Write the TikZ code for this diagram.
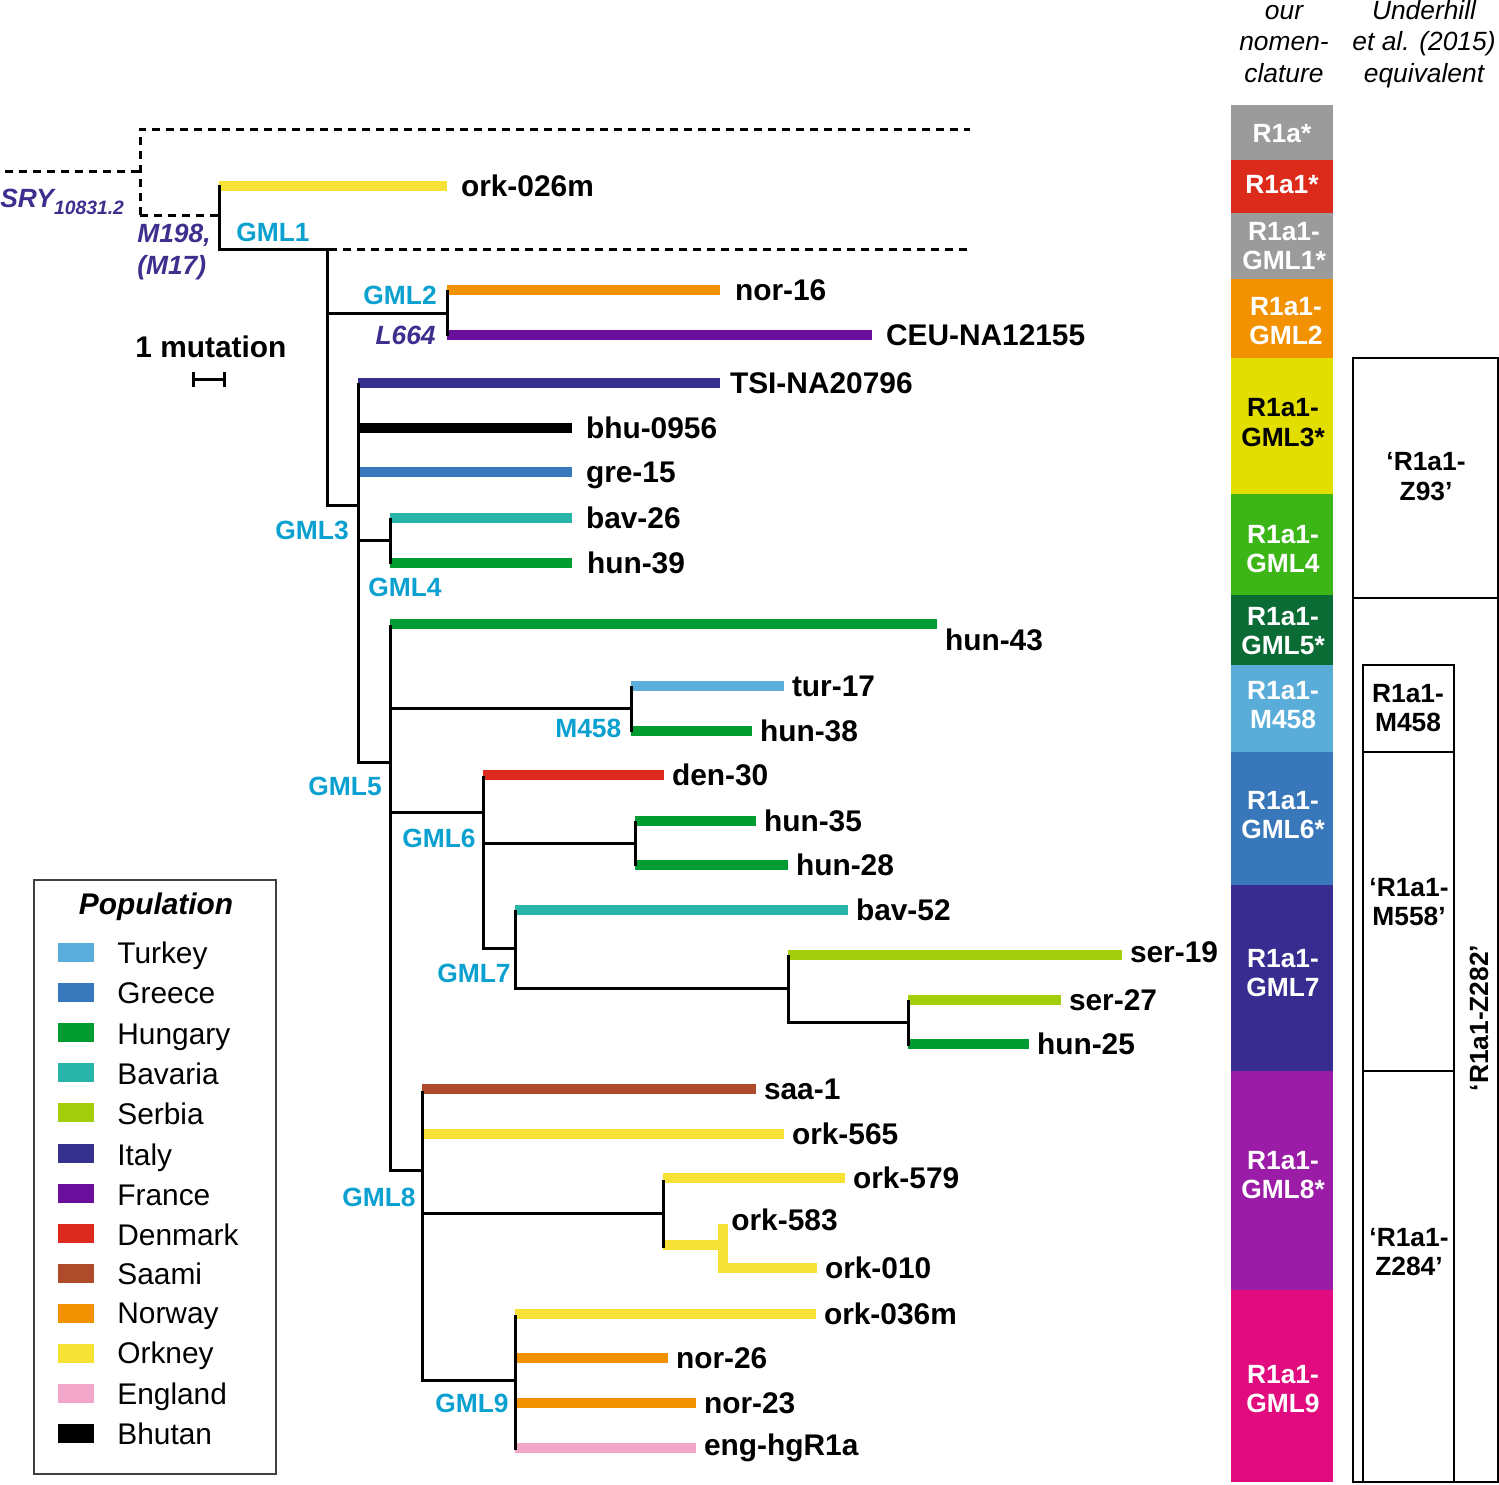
\documentclass[tikz,border=0pt]{standalone}
\usepackage{fontspec}
\setmainfont{Liberation Sans}
\usetikzlibrary{calc}

\definecolor{turkey}{RGB}{91,174,219}
\definecolor{greece}{RGB}{56,121,187}
\definecolor{hungary}{RGB}{0,156,50}
\definecolor{bavaria}{RGB}{40,180,168}
\definecolor{serbia}{RGB}{162,206,12}
\definecolor{italy}{RGB}{53,49,143}
\definecolor{france}{RGB}{106,15,156}
\definecolor{denmark}{RGB}{220,43,30}
\definecolor{saami}{RGB}{174,75,42}
\definecolor{norway}{RGB}{243,146,0}
\definecolor{orkney}{RGB}{246,226,52}
\definecolor{england}{RGB}{242,166,200}
\definecolor{bhutan}{RGB}{0,0,0}
\definecolor{cladecyan}{RGB}{10,160,208}
\definecolor{mutpurple}{RGB}{62,46,142}
\definecolor{hgray}{RGB}{155,155,155}
\definecolor{hred}{RGB}{220,43,27}
\definecolor{horange}{RGB}{243,146,0}
\definecolor{hyellow}{RGB}{226,222,0}
\definecolor{hgreen}{RGB}{60,181,23}
\definecolor{hdkgreen}{RGB}{10,107,52}
\definecolor{hltblue}{RGB}{90,173,217}
\definecolor{hblue}{RGB}{56,120,186}
\definecolor{hindigo}{RGB}{56,44,144}
\definecolor{hpurple}{RGB}{155,28,167}
\definecolor{hmagenta}{RGB}{225,10,127}

\tikzset{
	tree/.style={line width=0.6mm, line cap=rect},
	bar/.style={line width=2mm},
	dashline/.style={line width=0.6mm, dash pattern=on 1.6mm off 1.2mm},
	leaf/.style={anchor=west, inner sep=0pt, xshift=#1, text=black, text height=12.2pt, text depth=0pt, font=\bfseries\fontsize{17}{20}\selectfont},
	leaf/.default=0.6mm,
	clade/.style={inner sep=0pt, text=cladecyan, text height=10.7pt, text depth=0pt, font=\bfseries\fontsize{15}{18}\selectfont},
	mut/.style={inner sep=0pt, text=mutpurple, font=\bfseries\itshape\fontsize{15}{18}\selectfont},
	coltext/.style={text=white, align=center, inner sep=0pt, font=\bfseries\fontsize{15}{17}\selectfont},
	hdr/.style={align=center, inner sep=0pt, font=\itshape\fontsize{15}{17.9}\selectfont},
	eqbox/.style={draw, line width=0.3mm},
	eqtext/.style={align=center, inner sep=0pt, font=\bfseries\fontsize{15}{17}\selectfont},
	legtext/.style={anchor=west, inner sep=0pt, text height=12.2pt, text depth=0pt, font=\fontsize{17}{20}\selectfont},
	swatch/.style={minimum width=7.2mm, minimum height=3.8mm, inner sep=0pt}
}

\begin{document}
\begin{tikzpicture}[x=0.2mm, y=-0.2mm]
			%%%%% START %%%%%
			\useasboundingbox (0,0) rectangle (1499,1484);
			
			% junctions of the tree
			\coordinate (gml1) at (219,249);
			\coordinate (gml1s) at (327,249);
			\coordinate (gml2) at (447,313);
			\coordinate (gml3) at (358,505);
			\coordinate (gml4) at (390,540);
			\coordinate (gml5) at (390,762);
			\coordinate (m458) at (631,708);
			\coordinate (gml6) at (483,812);
			\coordinate (hunsub) at (635,843);
			\coordinate (gml7) at (515,948);
			\coordinate (sersub) at (788,988);
			\coordinate (sersubb) at (908,1022);
			\coordinate (gml8) at (422,1170);
			\coordinate (orksub) at (663,1213);
			\coordinate (gml9) at (515,1380);
			
			% dashed ancestral lines
			\draw[dashline] (5,171) -- (140,171);
			\draw[dashline] (140,215) -- (140,129) -- (970,129);
			\draw[dashline] (140,215) -- (218,215);
			\draw[dashline] (329,249) -- (970,249);
			
			% coloured branches
			\draw[bar, orkney] (219,186) -- (447,186) node[leaf=1.8mm] (ork026m) {ork-026m};
			\draw[bar, norway] (447,290) -- (720,290) node[leaf=2mm] (nor16) {nor-16};
			\draw[bar, france] (447,335) -- (872,335) node[leaf=1.8mm] (ceu) {CEU-NA12155};
			\draw[bar, italy] (358,383) -- (720,383) node[leaf=1mm] (tsi) {TSI-NA20796};
			\draw[bar, bhutan] (358,428) -- (572,428) node[leaf=1.8mm] (bhu0956) {bhu-0956};
			\draw[bar, greece] (358,472) -- (572,472) node[leaf=1.8mm] (gre15) {gre-15};
			\draw[bar, bavaria] (390,518) -- (572,518) node[leaf=1.8mm] (bav26) {bav-26};
			\draw[bar, hungary] (390,563) -- (572,563) node[leaf=2mm] (hun39) {hun-39};
			\draw[bar, hungary] (390,624) -- (937,624) node[leaf, yshift=-3.2mm] (hun43) {hun-43};
			\draw[bar, turkey] (631,686) -- (784,686) node[leaf] (tur17) {tur-17};
			\draw[bar, hungary] (631,731) -- (752,731) node[leaf] (hun38) {hun-38};
			\draw[bar, denmark] (483,775) -- (664,775) node[leaf] (den30) {den-30};
			\draw[bar, hungary] (635,821) -- (756,821) node[leaf] (hun35) {hun-35};
			\draw[bar, hungary] (635,865) -- (788,865) node[leaf] (hun28) {hun-28};
			\draw[bar, bavaria] (515,910) -- (848,910) node[leaf] (bav52) {bav-52};
			\draw[bar, serbia] (788,955) -- (1122,955) node[leaf, yshift=0.6mm] (ser19) {ser-19};
			\draw[bar, serbia] (908,1000) -- (1061,1000) node[leaf] (ser27) {ser-27};
			\draw[bar, hungary] (908,1044) -- (1029,1044) node[leaf] (hun25) {hun-25};
			\draw[bar, saami] (422,1089) -- (756,1089) node[leaf] (saa1) {saa-1};
			\draw[bar, orkney] (422,1134) -- (784,1134) node[leaf] (ork565) {ork-565};
			\draw[bar, orkney] (663,1178) -- (845,1178) node[leaf] (ork579) {ork-579};
			\draw[bar, orkney] (663,1245) -- (723,1245);
			\draw[bar, orkney] (723,1224) -- (723,1273);
			\draw[bar, orkney] (723,1268) -- (817,1268) node[leaf] (ork010) {ork-010};
			\node[leaf=0pt] (ork583) at (731,1220) {ork-583};
			\draw[bar, orkney] (515,1314) -- (816,1314) node[leaf] (ork036m) {ork-036m};
			\draw[bar, norway] (515,1358) -- (668,1358) node[leaf] (nor26) {nor-26};
			\draw[bar, norway] (515,1403) -- (696,1403) node[leaf] (nor23) {nor-23};
			\draw[bar, england] (515,1448) -- (696,1448) node[leaf, yshift=0.6mm] (eng) {eng-hgR1a};
			
			% black tree lines
			\draw[tree] (219,186) |- (gml1s);
			\draw[tree] (gml1s) |- (gml3);
			\draw[tree] (gml1s |- gml2) -- (gml2);
			\draw[tree] (447,291) -- (447,334);
			\draw[tree] (358,384) |- (gml5);
			\draw[tree] (gml3 |- gml4) -- (gml4);
			\draw[tree] (390,519) -- (390,562);
			\draw[tree] (390,626) |- (gml8);
			\draw[tree] (gml5 |- m458) -- (m458);
			\draw[tree] (631,687) -- (631,730);
			\draw[tree] (gml5 |- gml6) -- (gml6);
			\draw[tree] (483,777) |- (gml7);
			\draw[tree] (gml6 |- hunsub) -- (hunsub);
			\draw[tree] (635,822) -- (635,864);
			\draw[tree] (515,911) |- (sersub);
			\draw[tree] (788,956) |- (sersubb);
			\draw[tree] (908,1001) -- (908,1044);
			\draw[tree] (422,1092) |- (gml9);
			\draw[tree] (gml8 |- orksub) -- (orksub);
			\draw[tree] (663,1181) -- (663,1246);
			\draw[tree] (515,1316) -- (515,1448);
			
			% clade and mutation labels
			\node[mut, anchor=west] (sry) at (0,202) {SRY\raisebox{-1.5mm}{\fontsize{11}{12}\selectfont 10831.2}};
			\node[mut, anchor=west, align=left, font=\bfseries\itshape\fontsize{15}{18.4}\selectfont] (m198) at (137,252) {M198,\\(M17)};
			\node[mut, anchor=east] (l664) at (436,335) {L664};
			\node[clade, anchor=west] (lgml1) at (236,232) {GML1};
			\node[clade, anchor=east] (lgml2) at (437,295) {GML2};
			\node[clade, anchor=east] (lgml3) at (349,530) {GML3};
			\node[clade, anchor=west] (lgml4) at (368,587) {GML4};
			\node[clade, anchor=east] (lgml5) at (382,786) {GML5};
			\node[clade, anchor=west] (lm458) at (555,728) {M458};
			\node[clade, anchor=west] (lgml6) at (402,838) {GML6};
			\node[clade, anchor=west] (lgml7) at (437,973) {GML7};
			\node[clade, anchor=west] (lgml8) at (342,1197) {GML8};
			\node[clade, anchor=west] (lgml9) at (435,1403) {GML9};
			
			% scale
			\node[inner sep=0pt, font=\bfseries\fontsize{17}{20}\selectfont] (scale) at (211,347) {1 mutation};
			\draw[line width=0.6mm] (193,372) -- (193,387);
			\draw[line width=0.6mm] (193,379) -- (224,379);
			\draw[line width=0.6mm] (224,372) -- (224,387);
			
			% legend
			\draw[line width=0.3mm, black!75] (34,880) rectangle (276,1474);
			\node[inner sep=0pt, font=\bfseries\itshape\fontsize{17}{20}\selectfont] (poptitle) at (156,907) {Population};
			\node[swatch, fill=turkey] (sw1) at (76,952) {};
			\node[legtext] (lg1) at (117,953) {Turkey};
			\node[swatch, fill=greece] (sw2) at (76,992) {};
			\node[legtext] (lg2) at (117,993) {Greece};
			\node[swatch, fill=hungary] (sw3) at (76,1032) {};
			\node[legtext] (lg3) at (117,1034) {Hungary};
			\node[swatch, fill=bavaria] (sw4) at (76,1072) {};
			\node[legtext] (lg4) at (117,1074) {Bavaria};
			\node[swatch, fill=serbia] (sw5) at (76,1112) {};
			\node[legtext] (lg5) at (117,1114) {Serbia};
			\node[swatch, fill=italy] (sw6) at (76,1153) {};
			\node[legtext] (lg6) at (117,1155) {Italy};
			\node[swatch, fill=france] (sw7) at (76,1193) {};
			\node[legtext] (lg7) at (117,1195) {France};
			\node[swatch, fill=denmark] (sw8) at (76,1233) {};
			\node[legtext] (lg8) at (117,1235) {Denmark};
			\node[swatch, fill=saami] (sw9) at (76,1273) {};
			\node[legtext] (lg9) at (117,1274) {Saami};
			\node[swatch, fill=norway] (sw10) at (76,1313) {};
			\node[legtext] (lg10) at (117,1313) {Norway};
			\node[swatch, fill=orkney] (sw11) at (76,1353) {};
			\node[legtext] (lg11) at (117,1353) {Orkney};
			\node[swatch, fill=england] (sw12) at (76,1393) {};
			\node[legtext] (lg12) at (117,1394) {England};
			\node[swatch, fill=bhutan] (sw13) at (76,1433) {};
			\node[legtext] (lg13) at (117,1434) {Bhutan};
			
			% nomenclature column
			\node[hdr] (ournom) at (1284,44) {our\\nomen-\\clature};
			\node[hdr] (underhill) at (1424,44) {Underhill\\et al. (2015)\\equivalent};
			
			\fill[hgray] (1231,105) rectangle (1333,160);
			\node[coltext] (cr1a) at (1282,134) {R1a*};
			\fill[hred] (1231,160) rectangle (1333,213);
			\node[coltext] (cr1a1) at (1282,185) {R1a1*};
			\fill[hgray] (1231,213) rectangle (1333,279);
			\node[coltext] (cgml1) at (1284,246) {R1a1-\\GML1*};
			\fill[horange] (1231,279) rectangle (1333,358);
			\node[coltext] (cgml2) at (1286,321) {R1a1-\\GML2};
			\fill[hyellow] (1231,358) rectangle (1333,494);
			\node[coltext, text=black] (cgml3) at (1283,423) {R1a1-\\GML3*};
			\fill[hgreen] (1231,494) rectangle (1333,595);
			\node[coltext] (cgml4) at (1283,549) {R1a1-\\GML4};
			\fill[hdkgreen] (1231,595) rectangle (1333,665);
			\node[coltext] (cgml5) at (1283,631) {R1a1-\\GML5*};
			\fill[hltblue] (1231,665) rectangle (1333,752);
			\node[coltext] (cm458) at (1283,705) {R1a1-\\M458};
			\fill[hblue] (1231,752) rectangle (1333,885);
			\node[coltext] (cgml6) at (1283,815) {R1a1-\\GML6*};
			\fill[hindigo] (1231,885) rectangle (1333,1071);
			\node[coltext] (cgml7) at (1283,973) {R1a1-\\GML7};
			\fill[hpurple] (1231,1071) rectangle (1333,1290);
			\node[coltext] (cgml8) at (1283,1175) {R1a1-\\GML8*};
			\fill[hmagenta] (1231,1290) rectangle (1333,1482);
			\node[coltext] (cgml9) at (1283,1389) {R1a1-\\GML9};
			
			% equivalents
			\draw[eqbox] (1353,358) rectangle (1498,598);
			\draw[eqbox] (1353,598) rectangle (1498,1482);
			\draw[eqbox] (1363,665) rectangle (1454,752);
			\draw[eqbox] (1363,752) rectangle (1454,1071);
			\draw[eqbox] (1363,1071) rectangle (1454,1482);
			\node[eqtext] (ez93) at (1426,477) {‘R1a1-\\Z93’};
			\node[eqtext] (em458) at (1408,708) {R1a1-\\M458};
			\node[eqtext] (em558) at (1409,902) {‘R1a1-\\M558’};
			\node[eqtext] (ez284) at (1409,1252) {‘R1a1-\\Z284’};
			\node[eqtext, rotate=90] (ez282) at (1479,1018) {‘R1a1-Z282’};
			
			%%%%% END %%%%%
\end{tikzpicture}
\end{document}
